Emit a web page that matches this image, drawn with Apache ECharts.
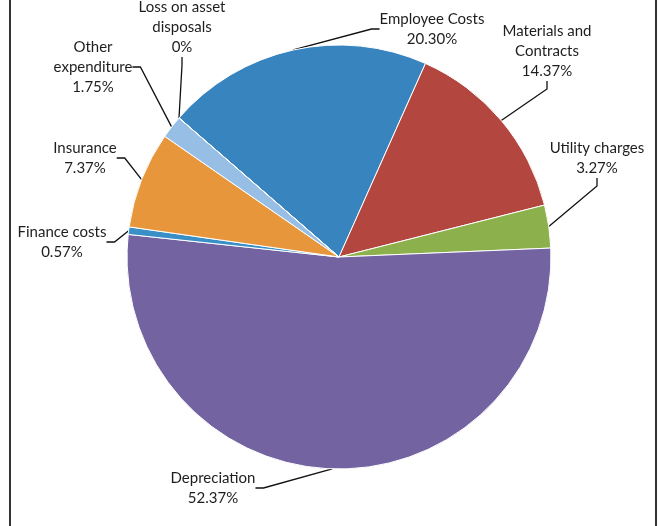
<!DOCTYPE html>
<html>
<head>
<meta charset="utf-8">
<title>Expenditure breakdown</title>
<script src="https://cdn.jsdelivr.net/npm/echarts@6/dist/echarts.min.js"></script>
<style>
  html, body { margin: 0; padding: 0; background: #fff; }
  #chart { width: 663px; height: 526px; }
</style>
</head>
<body>
<div id="chart"></div>
<script>
// Expense categories, in clockwise order from the top-left
var categories = [
  'Employee Costs',
  'Materials and\nContracts',
  'Utility charges',
  'Depreciation',
  'Finance costs',
  'Insurance',
  'Other\nexpenditure',
  'Loss on asset\ndisposals'
];
// Share of total expenditure, percent
var shares = [20.30, 14.37, 3.27, 52.37, 0.57, 7.37, 1.75, 0];
var sliceColors = ['#3784bf', '#b3463f', '#8cb04c', '#7363a0', '#3a8fc6', '#e8963c', '#97bfe5', '#6fa8dc'];

// Where each label's text block is centred
var labelSpots = [
  [432, 29], [547, 51], [597, 158], [213, 488],
  [62, 242], [85, 158], [93, 67], [182, 27]
];

var chart = echarts.init(document.getElementById('chart'));

var pieData = categories.map(function (name, i) {
  return { name: name, value: shares[i], itemStyle: { color: sliceColors[i] } };
});

chart.setOption({
  backgroundColor: '#ffffff',
  animation: false,
  graphic: [
    { type: 'line', shape: { x1: 10, y1: 0, x2: 10, y2: 526 }, style: { stroke: '#333', lineWidth: 2 } },
    { type: 'line', shape: { x1: 656, y1: 0, x2: 656, y2: 526 }, style: { stroke: '#333', lineWidth: 2 } }
  ],
  series: [{
    type: 'pie',
    center: [339, 257],
    radius: 212,
    startAngle: 139,
    clockwise: true,
    avoidLabelOverlap: false,
    data: pieData,
    itemStyle: { borderColor: '#ffffff', borderWidth: 1 },
    label: {
      show: true,
      position: 'outside',
      fontFamily: 'Lato',
      fontSize: 15,
      lineHeight: 20,
      color: '#1e1e1e',
      align: 'center',
      formatter: function (p) {
        var v = p.value === 0 ? '0' : p.value.toFixed(2);
        return p.name + '\n' + v + '%';
      }
    },
    labelLine: {
      show: true,
      length: 10,
      length2: 8,
      lineStyle: { color: '#111', width: 1.3 }
    },
    labelLayout: function (params) {
      var spot = labelSpots[params.dataIndex];
      return { x: spot[0], y: spot[1], align: 'center', verticalAlign: 'middle' };
    }
  }]
});
</script>
</body>
</html>
